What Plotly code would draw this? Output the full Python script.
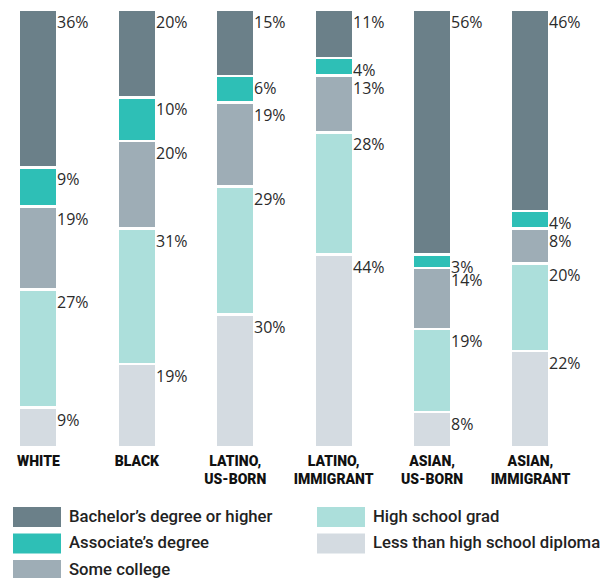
import plotly.graph_objects as go

categories = ["WHITE", "BLACK", "LATINO,<br>US-BORN", "LATINO,<br>IMMIGRANT",
              "ASIAN,<br>US-BORN", "ASIAN,<br>IMMIGRANT"]

less_than_hs = [9, 19, 30, 44, 8, 22]
hs_grad = [27, 31, 29, 28, 19, 20]
some_college = [19, 20, 19, 13, 14, 8]
associates = [9, 10, 6, 4, 3, 4]
bachelors = [36, 20, 15, 11, 56, 46]

series_names = ["Less than high school diploma", "High school grad", "Some college",
                "Associate’s degree", "Bachelor’s degree or higher"]
series_values = [less_than_hs, hs_grad, some_college, associates, bachelors]
series_colors = ["#d4dbe1", "#acdfdb", "#9eadb6", "#2ebfb6", "#6b8089"]

W, H = 603, 578
M_T, M_B, M_L, M_R = 10, 131, 0, 0
PW, PH = W - M_L - M_R, H - M_T - M_B


def px_x(x):
    return (x - M_L) / PW


def px_y(y):
    return (M_T + PH - y) / PH


fig = go.Figure()
for name, vals, col in zip(series_names, series_values, series_colors):
    fig.add_trace(go.Bar(
        x=categories, y=vals, name=name, showlegend=False,
        marker=dict(color=col, line=dict(color="white", width=2.5)),
        hoverinfo="name+y",
    ))

# percentage labels at the top of each segment (stacks normalised to 100)
totals = [sum(v[i] for v in series_values) for i in range(len(categories))]
annotations = []
for i, cat in enumerate(categories):
    cum = 0
    for vals in series_values:
        cum += vals[i]
        annotations.append(dict(
            x=cat, y=cum / totals[i] * 100, xref="x", yref="y", text=f"{vals[i]}%",
            showarrow=False, xanchor="left", yanchor="top", xshift=18, yshift=0,
            borderpad=0,
            font=dict(family="Open Sans", size=16, color="#2b2b2b"),
        ))

# manual legend (two columns)
legend_items = [
    ("Bachelor’s degree or higher", "#6b8089", 13, 507),
    ("Associate’s degree", "#2ebfb6", 13, 533.5),
    ("Some college", "#9eadb6", 13, 560),
    ("High school grad", "#acdfdb", 317, 507),
    ("Less than high school diploma", "#d4dbe1", 317, 533.5),
]
shapes = []
for label, col, x0, y0 in legend_items:
    shapes.append(dict(type="rect", xref="paper", yref="paper",
                       x0=px_x(x0), x1=px_x(x0 + 48), y0=px_y(y0), y1=px_y(y0 + 20),
                       fillcolor=col, line=dict(width=0), layer="above"))
    annotations.append(dict(x=px_x(x0 + 54), y=px_y(y0 + 9), xref="paper", yref="paper",
                            text=label, showarrow=False, xanchor="left", yanchor="middle",
                            font=dict(family="Roboto", size=16.7, color="#222222", weight=500)))

fig.update_layout(
    width=W, height=H,
    margin=dict(t=M_T, b=M_B, l=M_L, r=M_R),
    barmode="stack", barnorm="percent", bargap=0.609,
    plot_bgcolor="white", paper_bgcolor="white",
    xaxis=dict(type="category", range=[-0.391, 5.737], showgrid=False, zeroline=False,
               showline=False, ticks="", fixedrange=True, ticklabelstandoff=4,
               tickfont=dict(family="Roboto", size=14, color="#111111", weight=900)),
    yaxis=dict(range=[0, 100], visible=False, fixedrange=True),
    annotations=annotations, shapes=shapes,
)

fig.write_html("out.html", config={"displayModeBar": False},
               post_script="document.body.style.margin='0';document.body.style.padding='0';")
